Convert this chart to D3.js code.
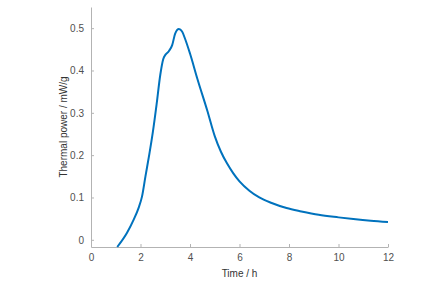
<!DOCTYPE html>
<html>
<head>
<meta charset="utf-8">
<script src="https://cdn.jsdelivr.net/npm/d3@7"></script>
<style>
  body { margin: 0; background: #fff; }
  text { font-family: "Liberation Sans", Arial, sans-serif; }
</style>
</head>
<body>
<svg id="chart"></svg>
<script>
// time (h) and thermal power (mW/g)
const timeH = [1.06, 1.45, 1.72, 1.92, 2.06, 2.2, 2.35, 2.5, 2.65, 2.8, 2.92, 3.02, 3.15, 3.28, 3.4, 3.55, 3.68, 3.8, 4.0, 4.3, 4.7, 5.0, 5.25, 5.5, 5.75, 6.0, 6.4, 6.8, 7.3, 7.9, 8.5, 9.2, 10.0, 10.6, 11.3, 12.0];
const power = [-0.017, 0.016, 0.047, 0.075, 0.102, 0.15, 0.2, 0.255, 0.32, 0.39, 0.427, 0.438, 0.446, 0.46, 0.487, 0.498, 0.492, 0.475, 0.44, 0.38, 0.305, 0.245, 0.208, 0.18, 0.157, 0.138, 0.116, 0.1, 0.087, 0.075, 0.067, 0.059, 0.053, 0.049, 0.045, 0.042];
const xTicks = [0, 2, 4, 6, 8, 10, 12];
const yTicks = [0, 0.1, 0.2, 0.3, 0.4, 0.5];

const width = 444, height = 282;
const plotLeft = 91, plotRight = 388, plotTop = 7, plotBottom = 247;

const svg = d3.select("svg#chart")
    .attr("width", width)
    .attr("height", height);

const x = d3.scaleLinear().domain([0, 12]).range([plotLeft, plotRight]);
const y = d3.scaleLinear().domain([-0.017, 0.55]).range([plotBottom, plotTop]);

const axisColor = "#b3b3b3";
const labelColor = "#505050";

// x axis
const gx = svg.append("g")
    .attr("transform", `translate(0,${plotBottom})`)
    .call(d3.axisBottom(x).tickValues(xTicks).tickSize(-3).tickSizeOuter(0).tickPadding(7).tickFormat(d3.format("d")));
gx.select(".domain").attr("stroke", axisColor);
gx.selectAll(".tick line").attr("stroke", axisColor);
gx.selectAll(".tick text").attr("fill", labelColor).attr("font-size", 10);

// y axis
const gy = svg.append("g")
    .attr("transform", `translate(${plotLeft},0)`)
    .call(d3.axisLeft(y).tickValues(yTicks).tickSize(-3).tickSizeOuter(0).tickPadding(7).tickFormat(d => d === 0 ? "0" : d3.format(".1f")(d)));
gy.select(".domain").attr("stroke", axisColor);
gy.selectAll(".tick line").attr("stroke", axisColor);
gy.selectAll(".tick text").attr("fill", labelColor).attr("font-size", 10);

// axis labels
svg.append("text")
    .attr("x", (plotLeft + plotRight) / 2)
    .attr("y", 277)
    .attr("text-anchor", "middle")
    .attr("font-size", 10)
    .attr("fill", "#333")
    .text("Time / h");

svg.append("text")
    .attr("transform", `translate(67,${(plotTop + plotBottom) / 2}) rotate(-90)`)
    .attr("text-anchor", "middle")
    .attr("font-size", 10)
    .attr("fill", "#333")
    .text("Thermal power / mW/g");

// curve
const line = d3.line()
    .x((d, i) => x(timeH[i]))
    .y(d => y(d))
    .curve(d3.curveMonotoneX);

svg.append("path")
    .datum(power)
    .attr("fill", "none")
    .attr("stroke", "#0072BD")
    .attr("stroke-width", 2)
    .attr("d", line);
</script>
</body>
</html>
